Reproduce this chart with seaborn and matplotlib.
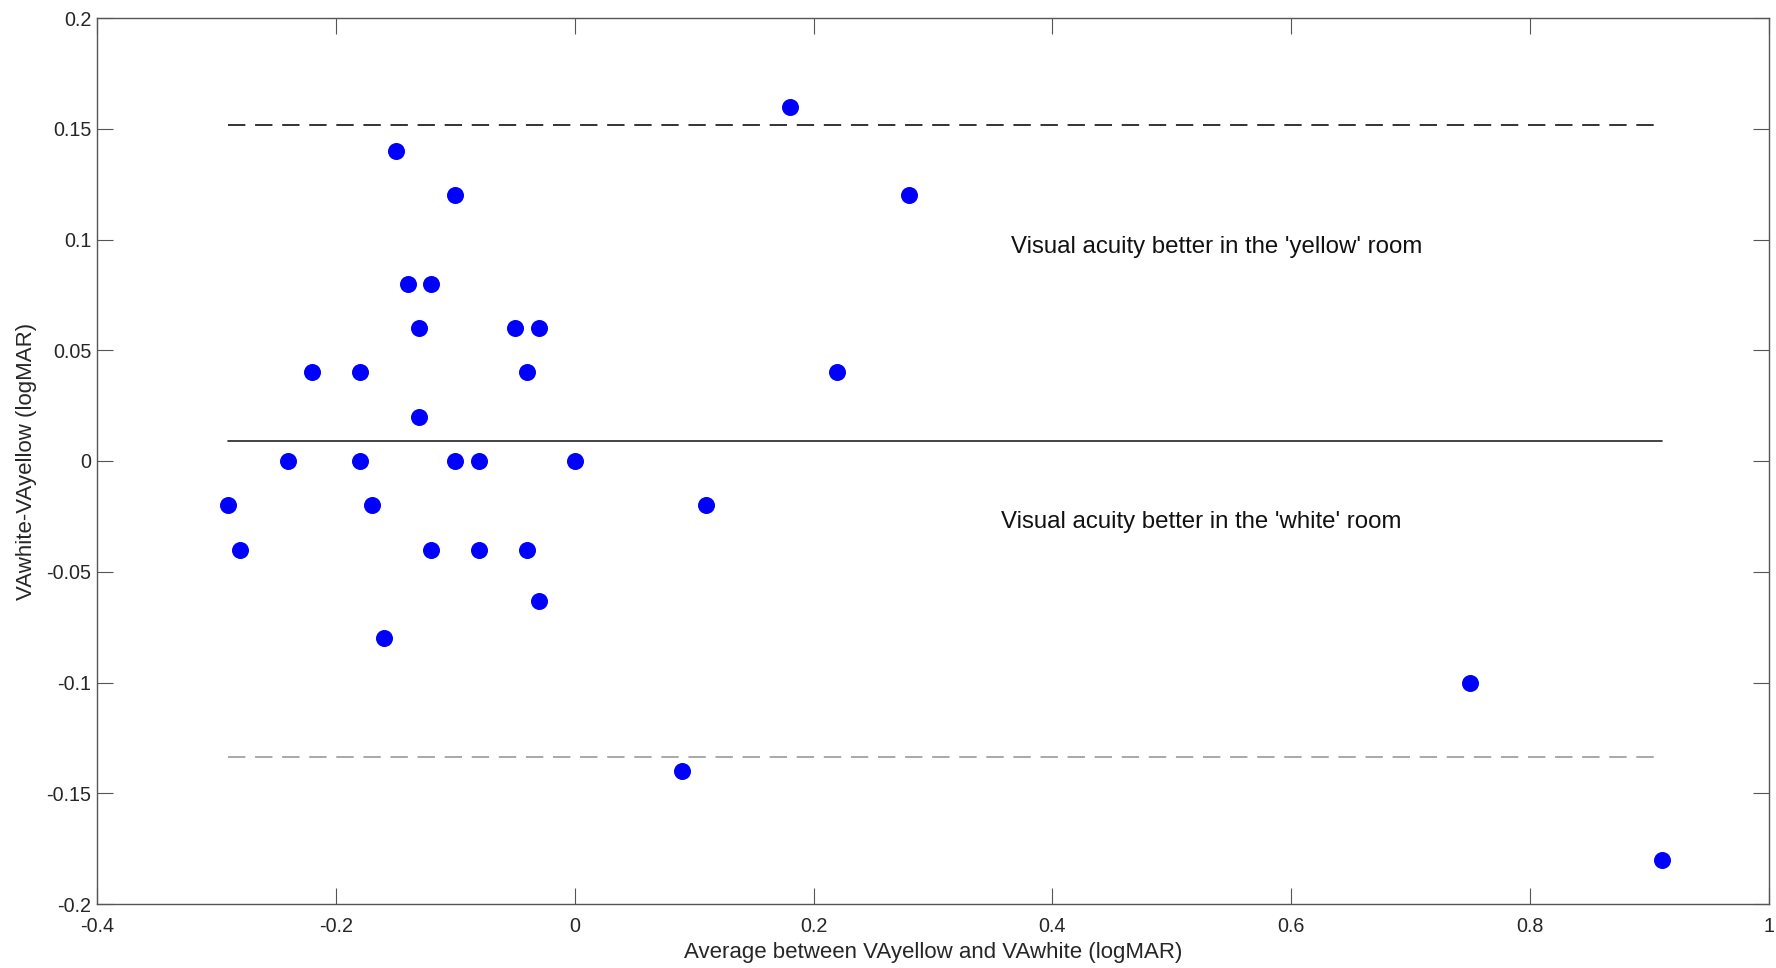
import matplotlib
matplotlib.use("Agg")
import matplotlib.pyplot as plt
import seaborn as sns
import pandas as pd

avg_logmar = [-0.29, -0.28, -0.24, -0.22, -0.18, -0.18, -0.17, -0.16, -0.15, -0.14,
              -0.13, -0.13, -0.12, -0.12, -0.10, -0.10, -0.08, -0.08, -0.05, -0.04,
              -0.04, -0.03, -0.03, 0.00, 0.09, 0.11, 0.18, 0.22, 0.28, 0.75, 0.91]
diff_logmar = [-0.02, -0.04, 0.00, 0.04, 0.04, 0.00, -0.02, -0.08, 0.14, 0.08,
               0.06, 0.02, 0.08, -0.04, 0.12, 0.00, 0.00, -0.04, 0.06, 0.04,
               -0.04, 0.06, -0.063, 0.00, -0.14, -0.02, 0.16, 0.04, 0.12, -0.10, -0.18]
mean_diff = 0.009
upper_loa = 0.1515
lower_loa = -0.1335
xticks = [-0.4, -0.2, 0, 0.2, 0.4, 0.6, 0.8, 1]
yticks = [-0.2, -0.15, -0.1, -0.05, 0, 0.05, 0.1, 0.15, 0.2]
xtick_labels = ["-0.4", "-0.2", "0", "0.2", "0.4", "0.6", "0.8", "1"]
ytick_labels = ["-0.2", "-0.15", "-0.1", "-0.05", "0", "0.05", "0.1", "0.15", "0.2"]

df = pd.DataFrame({"avg": avg_logmar, "diff": diff_logmar})

sns.set_style("white")
plt.rcParams["font.family"] = ["Liberation Sans", "DejaVu Sans"]
plt.rcParams["lines.scale_dashes"] = False

fig = plt.figure(figsize=(17.76, 9.68), dpi=100)
ax = fig.add_axes([97 / 1776, 1 - 904 / 968, (1769 - 97) / 1776, (904 - 18) / 968])

xmin, xmax = min(avg_logmar), max(avg_logmar)
ax.plot([xmin, xmax], [upper_loa, upper_loa], color="#111111", lw=1.2, linestyle=(0, (12.5, 7.0)), zorder=1)
ax.plot([xmin, xmax], [mean_diff, mean_diff], color="#222222", lw=1.2, zorder=1)
ax.plot([xmin, xmax], [lower_loa, lower_loa], color="#999999", lw=1.2, linestyle=(0, (12.5, 7.0)), zorder=1)

sns.scatterplot(data=df, x="avg", y="diff", ax=ax, color="#0000ff", s=150,
                edgecolor="#0000ff", linewidth=0, zorder=3)

ax.text(0.365, 0.0965, "Visual acuity better in the 'yellow' room", fontsize=17.3,
        color="#111111", va="center", ha="left")
ax.text(0.357, -0.0275, "Visual acuity better in the 'white' room", fontsize=17.3,
        color="#111111", va="center", ha="left")

ax.set_xlim(-0.4, 1)
ax.set_ylim(-0.2, 0.2)
ax.set_xticks(xticks)
ax.set_xticklabels(xtick_labels)
ax.set_yticks(yticks)
ax.set_yticklabels(ytick_labels)
ax.set_xlabel("Average between VAyellow and VAwhite (logMAR)", fontsize=16, color="#262626", labelpad=5)
ax.set_ylabel("VAwhite-VAyellow (logMAR)", fontsize=16, color="#262626", labelpad=7)
ax.tick_params(direction="in", length=11.5, width=0.8, color="#555555", labelsize=14.2,
               labelcolor="#262626", top=True, right=True, bottom=True, left=True, pad=4)
ax.tick_params(axis="x", pad=9)
for sp in ax.spines.values():
    sp.set_visible(True)
    sp.set_color("#555555")
    sp.set_linewidth(1.0)

fig.savefig("out.png", dpi=100)
